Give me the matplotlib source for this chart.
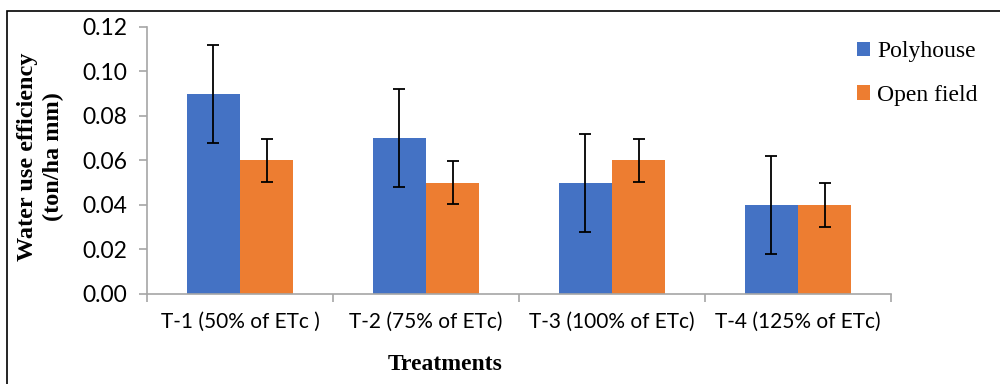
import numpy as np
import matplotlib.pyplot as plt
from matplotlib.patches import Rectangle

# データ
categories = ['T-1 (50% of ETc )', 'T-2 (75% of ETc)', 'T-3 (100% of ETc)', 'T-4 (125% of ETc)']
polyhouse = [0.09, 0.07, 0.05, 0.04]
polyhouse_err = [0.022, 0.022, 0.022, 0.022]
open_field = [0.06, 0.05, 0.06, 0.04]
open_field_err = [0.0097, 0.0097, 0.0097, 0.0097]
yticks = [0.00, 0.02, 0.04, 0.06, 0.08, 0.10, 0.12]

blue = '#4472C4'
orange = '#ED7D31'
gray = '#A6A6A6'

fig = plt.figure(figsize=(10, 3.84), dpi=100)
ax = fig.add_axes([0.147, 0.2344, 0.744, 0.6953])

x = np.arange(len(categories))
w = 0.285
ax.bar(x - w / 2, polyhouse, w, color=blue, label='Polyhouse',
       yerr=polyhouse_err, error_kw=dict(ecolor='black', elinewidth=1.3, capsize=4.5, capthick=1.3))
ax.bar(x + w / 2, open_field, w, color=orange, label='Open field',
       yerr=open_field_err, error_kw=dict(ecolor='black', elinewidth=1.3, capsize=4.5, capthick=1.3))

ax.set_xlim(-0.5, len(categories) - 0.5)
ax.set_ylim(0, 0.12)
ax.set_yticks(yticks)
ax.set_yticklabels(['%.2f' % v for v in yticks], fontfamily='Lato', fontsize=16.5)

# カテゴリ境界に目盛
ax.set_xticks(np.arange(-0.5, len(categories), 1.0))
ax.set_xticklabels([])
ax.set_xticks(x, minor=True)
ax.set_xticklabels(categories, minor=True, fontfamily='Lato', fontsize=15)
ax.tick_params(axis='x', which='minor', length=0, pad=13)
ax.tick_params(axis='x', which='major', length=6, color=gray, width=1.2)
ax.tick_params(axis='y', length=6, color=gray, width=1.2, pad=8)

for s in ['top', 'right']:
    ax.spines[s].set_visible(False)
for s in ['left', 'bottom']:
    ax.spines[s].set_color(gray)
    ax.spines[s].set_linewidth(1.2)

ax.set_ylabel('Water use efficiency\n(ton/ha mm)', fontfamily='Liberation Serif',
              fontweight='bold', fontsize=17.5, linespacing=1.3)
ax.yaxis.set_label_coords(-0.112, 0.515)
fig.text(0.445, 0.05, 'Treatments', fontfamily='Liberation Serif', fontweight='bold',
         fontsize=17, ha='center', va='center')

leg = fig.legend(loc='upper left', bbox_to_anchor=(0.857, 0.892), frameon=False,
                 prop={'family': 'Liberation Serif', 'size': 17},
                 handlelength=0.55, handleheight=0.55, handletextpad=0.3,
                 labelspacing=0.95, borderpad=0, borderaxespad=0)

# 外枠
fig.patches.append(Rectangle((0.007, -0.1), 1.2, 1.1 - 11 / 384, transform=fig.transFigure,
                             fill=False, edgecolor='black', linewidth=1.2))

fig.savefig('out.png', dpi=100)
